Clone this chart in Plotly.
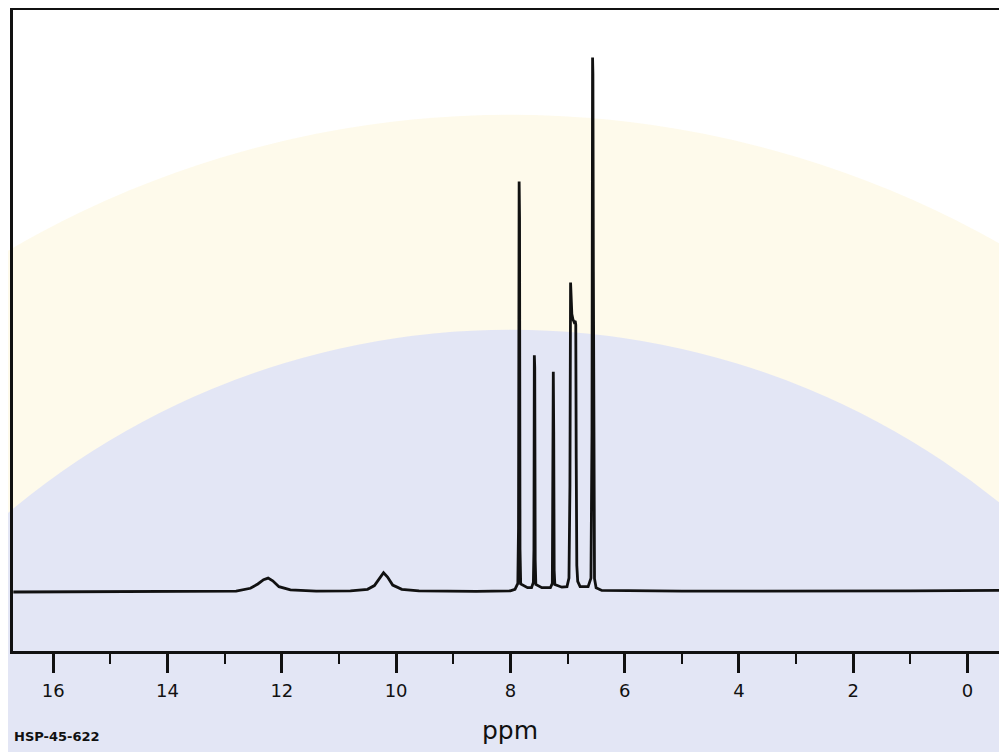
import plotly.graph_objects as go

# Spectrum trace (chemical shift in ppm, relative intensity; tallest peak = 100)
ppm = [16.70, 14.0, 12.80, 12.55, 12.42, 12.32, 12.24, 12.16, 12.05, 11.85, 11.40,
       10.80, 10.50, 10.38, 10.30, 10.22, 10.15, 10.06, 9.90, 9.60, 8.60, 8.00,
       7.92, 7.870, 7.858, 7.847, 7.840, 7.832, 7.820, 7.70,
       7.630, 7.598, 7.588, 7.581, 7.574, 7.566, 7.555, 7.45,
       7.300, 7.266, 7.256, 7.249, 7.242, 7.234, 7.222, 7.10,
       7.010, 6.975, 6.958, 6.947, 6.940, 6.925, 6.905, 6.885, 6.866, 6.856, 6.848, 6.838, 6.822, 6.78,
       6.640, 6.590, 6.572, 6.562, 6.556, 6.548, 6.540, 6.528, 6.50, 6.40, 5.0, 3.0, 1.0, -0.69]
intensity = [0.0, 0.05, 0.15, 0.7, 1.5, 2.3, 2.6, 2.1, 1.0, 0.4, 0.15,
             0.2, 0.5, 1.2, 2.4, 3.6, 2.8, 1.3, 0.5, 0.2, 0.1, 0.2,
             0.5, 1.6, 12.0, 76.8, 70.0, 8.0, 1.5, 0.8,
             0.8, 1.8, 8.0, 44.3, 42.0, 6.0, 1.4, 0.8,
             0.8, 1.6, 20.0, 41.2, 30.0, 4.0, 1.4, 0.9,
             1.0, 2.6, 20.0, 57.9, 56.0, 52.0, 51.0, 50.5, 50.7, 50.0, 25.0, 5.0, 2.0, 1.0,
             1.0, 2.6, 30.0, 100.0, 97.0, 60.0, 10.0, 2.5, 0.8, 0.3, 0.15, 0.15, 0.2, 0.3]

major_ticks = [16, 14, 12, 10, 8, 6, 4, 2, 0]
major_labels = ["16", "14", "12", "10", "8", "6", "4", "2", "0"]

x_range = [16.705, -0.691]
y_range = [-11.04, 108.9]

fig = go.Figure()
fig.add_trace(go.Scatter(
    x=ppm, y=intensity, mode="lines",
    line=dict(color="#111111", width=2.8),
    hoverinfo="skip", showlegend=False,
))

# faint watermark-like background (pale yellow ring and pale blue disc)
shapes = [
    dict(type="circle", xref="paper", yref="paper", xsizemode="pixel", ysizemode="pixel",
         xanchor=0.5, yanchor=-0.714, x0=-994, x1=994, y0=-994, y1=994,
         fillcolor="rgba(253,242,205,0.40)", line=dict(width=0), layer="below"),
    dict(type="circle", xref="paper", yref="paper", xsizemode="pixel", ysizemode="pixel",
         xanchor=0.5, yanchor=-0.714, x0=-779, x1=779, y0=-779, y1=779,
         fillcolor="rgba(222,226,247,0.85)", line=dict(width=0), layer="below"),
]

fig.update_layout(
    width=999, height=744,
    margin=dict(l=5, r=0, t=2, b=101),
    paper_bgcolor="white",
    plot_bgcolor="rgba(0,0,0,0)",
    shapes=shapes,
    font=dict(family="DejaVu Sans", color="#111111"),
    xaxis=dict(
        range=x_range, tickmode="array", tickvals=major_ticks, ticktext=major_labels,
        ticks="outside", ticklen=19, tickwidth=2.5, tickcolor="#111111",
        ticklabelstandoff=3,
        minor=dict(dtick=1, ticks="outside", ticklen=10, tickwidth=2, tickcolor="#111111"),
        showline=True, linecolor="#111111", linewidth=2.5, mirror=True,
        showgrid=False, zeroline=False,
        tickfont=dict(family="DejaVu Sans", size=18, color="#111111"),
    ),
    yaxis=dict(
        range=y_range, showticklabels=False, ticks="",
        showline=True, linecolor="#111111", linewidth=2.5, mirror=False,
        showgrid=False, zeroline=False,
    ),
    annotations=[
        dict(text="ppm", xref="paper", yref="paper", x=0.5, y=-0.098,
             xanchor="center", yanchor="top", showarrow=False,
             font=dict(family="DejaVu Sans", size=25, color="#111111")),
        dict(text="<b>HSP-45-622</b>", xref="paper", yref="paper", x=-0.001, y=-0.119,
             xanchor="left", yanchor="top", showarrow=False,
             font=dict(family="DejaVu Sans", size=13, color="#111111")),
    ],
)

fig.write_html("out.html")
